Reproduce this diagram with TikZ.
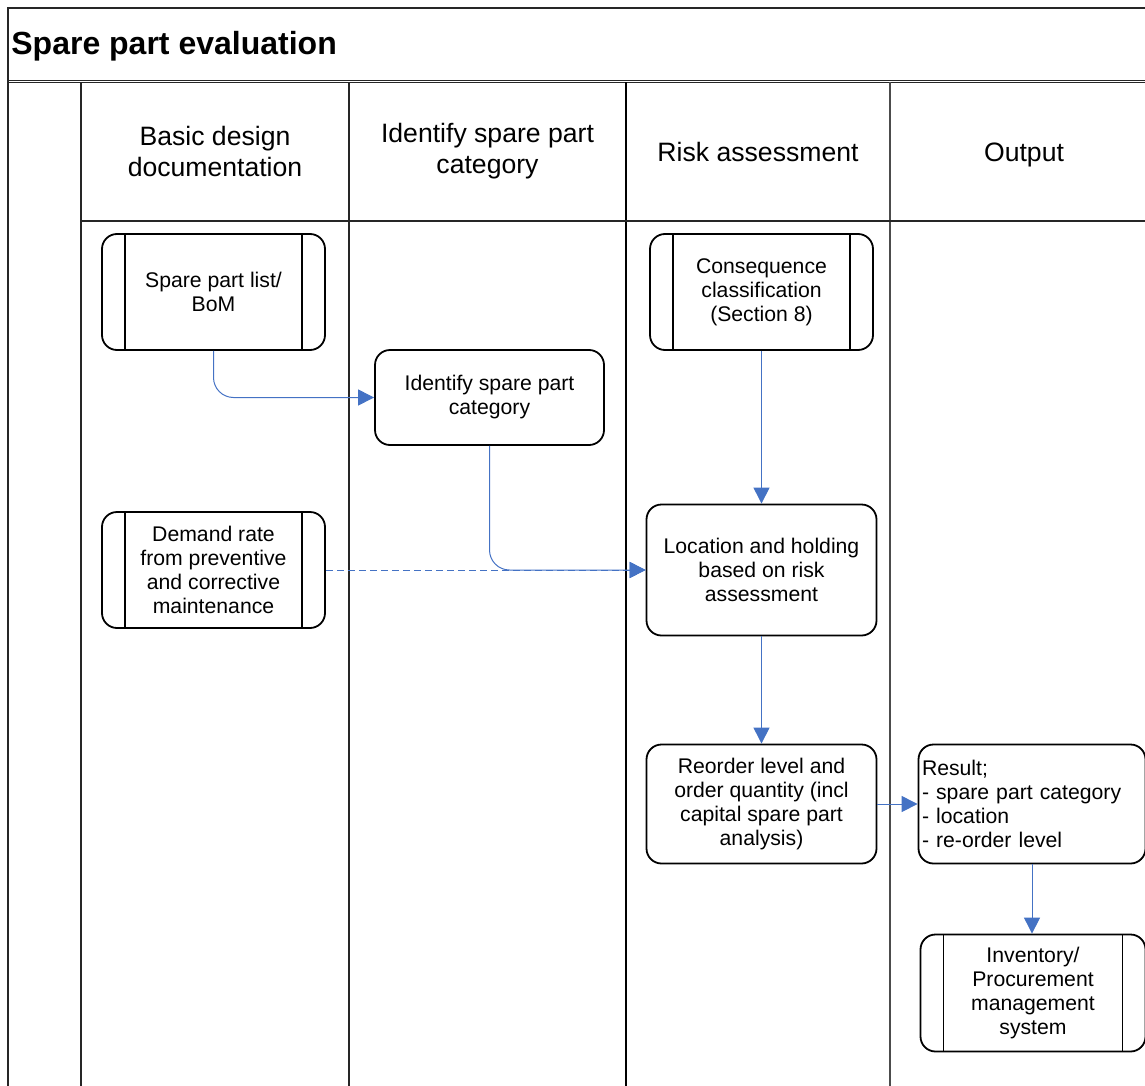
\documentclass[tikz,border=0pt]{standalone}
\usepackage{fontspec}
\setmainfont{Liberation Sans}
\usetikzlibrary{arrows.meta}
\definecolor{FlowBlue}{HTML}{4472C4}
\tikzstyle{lane} = [line width=0.6pt, draw=black!85]
\tikzstyle{header} = [align=center, font=\fontsize{13.3}{15.5}\selectfont]
\tikzstyle{process} = [rectangle, rounded corners=7.5pt, minimum width=115pt, minimum height=47.5pt, align=center, draw=black, line width=0.9pt, font=\fontsize{10.6}{12}\selectfont]
\tikzstyle{predef} = [process, minimum width=111.5pt, minimum height=58pt, path picture={\draw[line width=0.9pt] ([xshift=11.5pt]path picture bounding box.north west) -- ([xshift=11.5pt]path picture bounding box.south west) ([xshift=-11.5pt]path picture bounding box.north east) -- ([xshift=-11.5pt]path picture bounding box.south east);}]
\tikzstyle{arrow} = [line width=0.5pt, draw=FlowBlue, rounded corners=10pt, -{Triangle[length=8pt, width=8pt]}]
\begin{document}
\begin{tikzpicture}[x=0.5pt, y=0.5pt, node distance=139pt]
\useasboundingbox (0,0) rectangle (1145,-1086);

% swimlane frame
\draw [lane] (8,-1090) -- (8,-8) -- (1150,-8);
\draw [lane] (8,-80.5) -- (1150,-80.5);
\draw [lane] (8,-82.5) -- (1150,-82.5);
\draw [lane] (81,-82.5) -- (81,-1090);
\draw [lane] (349,-82.5) -- (349,-1090);
\draw [lane, line width=0.9pt, draw=black] (626,-82.5) -- (626,-1090);
\draw [lane, line width=0.9pt, draw=black!70] (890,-82.5) -- (890,-1090);
\draw [lane] (81,-221) -- (1150,-221);

\node (title) [anchor=base west, inner sep=0pt, font=\bfseries\fontsize{16}{19}\selectfont] at (11,-54.5) {Spare part evaluation};

\node (hBasic) [header] at (215,-151) {Basic design\\documentation};
\node (hIdentify) [header] at (487.5,-151) {Identify spare part\\category};
\node (hRisk) [header] at (758,-152) {Risk assessment};
\node (hOutput) [header] at (1024,-155) {Output};

\node (bom) [predef] at (213.5,-292) {Spare part list/\\BoM};
\node (ident) [process, below of=bom, xshift=138pt, yshift=86.25pt, minimum width=114.5pt] {Identify spare part\\category};
\node (conseq) [predef, right of=bom, xshift=135pt] {Consequence\\classification\\(Section 8)};
\node (demand) [predef, below of=bom] {Demand rate\\from preventive\\and corrective\\maintenance};

\node (holding) [process, below of=conseq, minimum height=65.5pt] {Location and holding\\based on risk\\assessment};
\node (reorder) [process, below of=holding, yshift=22pt, minimum height=59.5pt] {Reorder level and\\order quantity (incl\\capital spare part\\analysis)};
\node (result) [process, right of=reorder, xshift=-3.75pt, minimum width=113.5pt, minimum height=59.5pt, text width=110pt, inner xsep=1.5pt, align=left] {Result;\\- spare part category\\- location\\- re-order level};
\node (inventory) [predef, below of=result, yshift=44.5pt, xshift=0.5pt, minimum width=112.5pt, minimum height=58.5pt] {Inventory/\\Procurement\\management\\system};

\draw [arrow] (bom.south) |- (ident.west);
\draw [arrow] (ident.south) |- (holding.west);
\draw [arrow, rounded corners=0pt, dash pattern=on 3.5pt off 2pt] (demand.east) -- (holding.west);
\draw [arrow] (conseq.south) -- (holding.north);
\draw [arrow] (holding.south) -- (reorder.north);
\draw [arrow] (reorder.east) -- (result.west);
\draw [arrow] (result.south) -- (result.south |- inventory.north);

\end{tikzpicture}
\end{document}
